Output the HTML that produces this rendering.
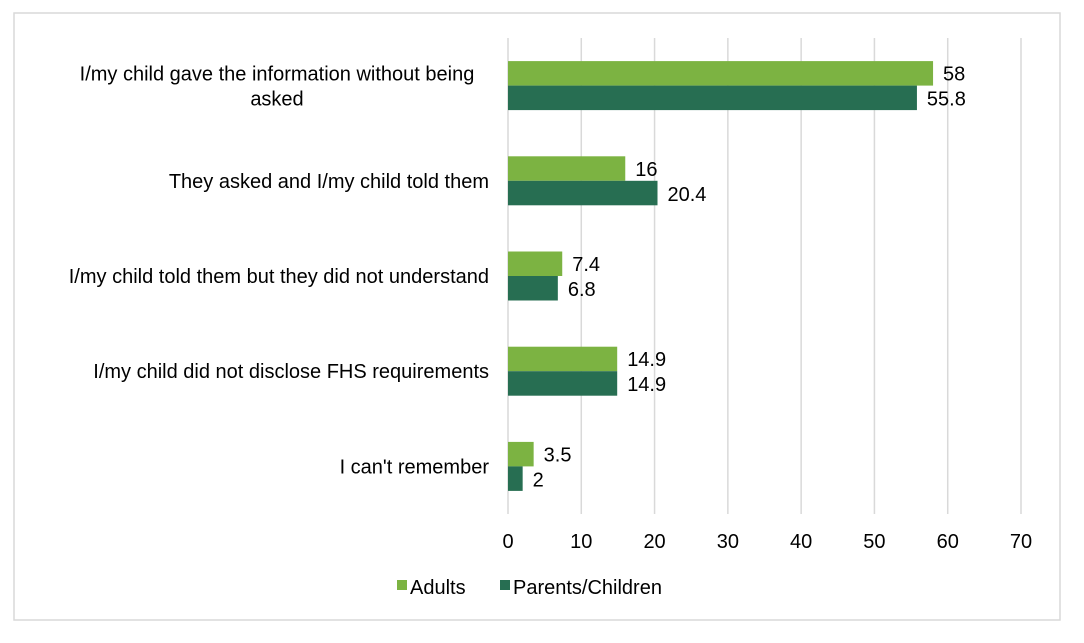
<!DOCTYPE html>
<html><head><meta charset="utf-8"><style>
body{margin:0;background:#fff;font-family:"Liberation Sans",Arial,sans-serif}
svg text{font-family:"Liberation Sans",Arial,sans-serif;fill:#000}
</style></head><body>
<svg width="1084" height="638">
<rect x="14" y="13" width="1046" height="607" fill="#fff" stroke="#d9d9d9" stroke-width="1.5"/>
<g id="grid"></g><g id="bars"></g><g id="labels"></g>
<g>
<rect x="397" y="580" width="10" height="10" fill="#7cb342"/>
<text x="410" y="594" font-size="20">Adults</text>
<rect x="500" y="580" width="10" height="10" fill="#276e52"/>
<text x="513" y="594" font-size="20">Parents/Children</text>
</g>
</svg>
<script>
const categories=[["I/my child gave the information without being","asked"],["They asked and I/my child told them"],["I/my child told them but they did not understand"],["I/my child did not disclose FHS requirements"],["I can't remember"]];
const adults=[58,16,7.4,14.9,3.5];
const parents=[55.8,20.4,6.8,14.9,2];
const ticks=[0,10,20,30,40,50,60,70];
const NS="http://www.w3.org/2000/svg";
const x0=508,x1=1021,xmax=70,yTop=38,yBot=514;
const xs=v=>x0+(x1-x0)*v/xmax;
const band=(yBot-yTop)/categories.length;
function mk(tag,attrs,parent,txt){const e=document.createElementNS(NS,tag);for(const k in attrs)e.setAttribute(k,attrs[k]);if(txt!==undefined)e.textContent=txt;document.getElementById(parent).appendChild(e);return e;}
ticks.forEach(t=>{
const l=mk('line',{x1:xs(t),x2:xs(t),y1:yTop,y2:yBot,stroke:'#d9d9d9','stroke-width':1.5},'grid');


const tx=mk('text',{x:xs(t),y:548,'font-size':20,'text-anchor':'middle'},'labels',String(t));


});
const bh=24.5;
categories.forEach((c,i)=>{
const cy=yTop+band*(i+0.5);
const a=mk('rect',{x:x0,y:cy-bh,width:xs(adults[i])-x0,height:bh,fill:'#7cb342'},'bars');


const p=mk('rect',{x:x0,y:cy,width:xs(parents[i])-x0,height:bh,fill:'#276e52'},'bars');


const va=mk('text',{x:xs(adults[i])+10,y:cy-5,'font-size':20},'labels',String(adults[i]));


const vp=mk('text',{x:xs(parents[i])+10,y:cy+20,'font-size':20},'labels',String(parents[i]));


const n=c.length;
c.forEach((line,j)=>{
if(n===1){
const t=mk('text',{x:489,y:cy+7,'font-size':20,'text-anchor':'end'},'labels',line);


}else{
const t=mk('text',{x:277,y:cy-5+j*25,'font-size':20,'text-anchor':'middle'},'labels',line);


}
});
});
</script>
</body></html>
